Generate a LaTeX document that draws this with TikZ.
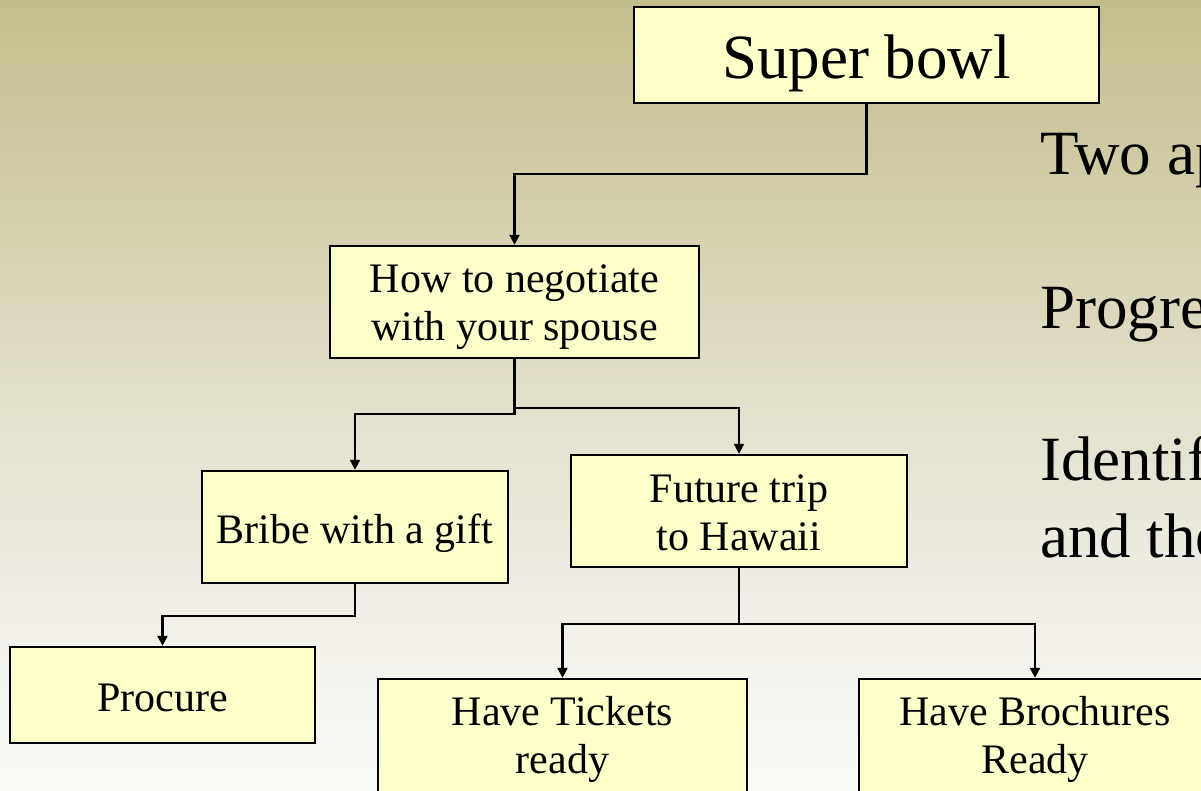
\documentclass[tikz,border=0pt]{standalone}
\usepackage{fontspec}
\setmainfont{Liberation Serif}
\usetikzlibrary{arrows.meta}

\definecolor{bgA}{RGB}{196,190,141}
\definecolor{bgB}{RGB}{211,206,170}
\definecolor{bgC}{RGB}{226,223,203}
\definecolor{bgD}{RGB}{240,238,230}
\definecolor{bgE}{RGB}{251,250,247}
\definecolor{boxfill}{RGB}{255,255,204}

% two centred lines whose baseline is that of the first line
\newcommand{\twol}[2]{\begin{tabular}[t]{@{}c@{}}#1\\#2\end{tabular}}

\tikzset{
  box/.style={draw=black, line width=2.4pt, fill=boxfill, inner sep=0pt,
    font=\fontsize{42}{48}\selectfont, text height=32pt, text depth=0pt},
  twobox/.style={box, text height=30pt, text depth=48pt},
  bigbox/.style={box, font=\fontsize{63}{72}\selectfont, text height=48pt, text depth=0pt},
  conn/.style={draw=black, line width=2.2pt, -{Triangle[length=10pt,width=10pt]}},
  side/.style={anchor=base west, inner sep=0pt, font=\fontsize{63}{77}\selectfont}
}

\begin{document}
\begin{tikzpicture}[x=1pt, y=-1pt]
  \useasboundingbox (0,0) rectangle (1201,791);
  \clip (0,0) rectangle (1201,791);

  % background: khaki fading to off-white
  \shade[top color=bgA, bottom color=bgB] (0,0) rectangle (1201,200.5);
  \shade[top color=bgB, bottom color=bgC] (0,200) rectangle (1201,400.5);
  \shade[top color=bgC, bottom color=bgD] (0,400) rectangle (1201,600.5);
  \shade[top color=bgD, bottom color=bgE] (0,600) rectangle (1201,791);

  % tree nodes
  \node[bigbox, minimum width=465pt, minimum height=96pt] (sb) at (866.5,55) {Super bowl};
  \node[twobox, minimum width=369pt, minimum height=112pt] (how) at (514.5,302) {\twol{How to negotiate}{with your spouse}};
  \node[box, minimum width=306pt, minimum height=112pt] (bribe) at (355,527) {Bribe with a gift};
  \node[twobox, minimum width=336pt, minimum height=112pt] (trip) at (739,511) {\twol{Future trip~}{to Hawaii}};
  \node[box, minimum width=305pt, minimum height=96pt] (proc) at (162.5,695) {Procure};
  \node[twobox, text depth=54pt, minimum width=369pt, minimum height=116pt] (tick) at (562.5,737) {\twol{Have Tickets}{ready}};
  \node[twobox, text depth=54pt, minimum width=352pt, minimum height=116pt] (broch) at (1035,737) {\twol{Have Brochures}{Ready}};

  % elbow connectors
  \draw[conn] (sb.south) -- ++(0,70) -| (how.north);
  \draw[conn] (how.south) -- ++(0,55) -| (bribe.north);
  \draw[conn] (how.south) -- ++(0,49) -| (trip.north);
  \draw[conn] (bribe.south) -- ++(0,32) -| (proc.north);
  \draw[conn] (trip.south) -- ++(0,56) -| (tick.north);
  \draw[conn] (trip.south) -- ++(0,56) -| (broch.north);

  % bullet text running off the right edge
  \node[side] (t1) at (1040,175) {Two ap};
  \node[side] (t2) at (1040,328) {Progre};
  \node[side] (t3) at (1040,480) {Identif};
  \node[side] (t4) at (1040,557) {and the};
\end{tikzpicture}
\end{document}
